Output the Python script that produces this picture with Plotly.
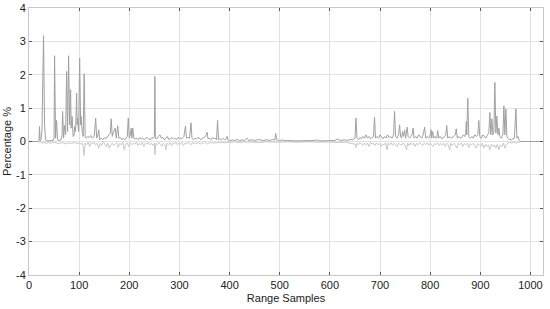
import plotly.graph_objects as go

# Series A (darker trace, positive spikes)
a_x = [0, 18, 20, 21, 22, 24, 26, 29, 31, 33, 36, 40, 44, 48, 50, 51, 53, 55, 57, 60, 64, 66, 67, 69, 71, 73, 75, 76, 77, 79, 81, 83, 84, 86, 88, 90, 91, 93, 95, 96, 97, 99, 101, 103, 104, 106, 108, 110, 112, 114, 117, 120, 123, 126, 130, 133, 135, 137, 139, 141, 144, 147, 150, 153, 156, 159, 162, 164, 166, 169, 172, 174, 177, 179, 182, 185, 188, 191, 194, 196, 198, 200, 202, 204, 205, 207, 209, 212, 215, 218, 221, 224, 227, 230, 233, 236, 239, 242, 245, 248, 250, 251, 252, 255, 258, 261, 264, 267, 270, 273, 276, 279, 282, 285, 288, 291, 294, 297, 300, 303, 306, 309, 312, 314, 317, 320, 323, 325, 328, 331, 334, 337, 340, 343, 346, 349, 352, 355, 357, 360, 363, 366, 369, 372, 374, 376, 378, 381, 384, 387, 390, 393, 395, 397, 400, 405, 410, 415, 420, 425, 430, 435, 438, 445, 450, 455, 460, 465, 470, 475, 480, 485, 490, 492, 494, 500, 505, 510, 515, 520, 525, 530, 540, 550, 560, 570, 574, 578, 590, 600, 610, 616, 620, 630, 635, 640, 645, 650, 652, 654, 657, 660, 663, 666, 669, 672, 675, 678, 681, 684, 687, 689, 691, 694, 697, 700, 703, 706, 709, 712, 715, 718, 721, 724, 727, 729, 731, 734, 737, 739, 741, 743, 745, 747, 749, 751, 754, 756, 759, 762, 764, 766, 768, 771, 774, 777, 780, 783, 786, 789, 791, 794, 797, 800, 802, 803, 805, 807, 810, 813, 815, 817, 820, 823, 826, 829, 831, 833, 835, 838, 841, 844, 847, 850, 852, 854, 857, 860, 863, 866, 869, 871, 872, 873, 875, 877, 880, 883, 886, 889, 892, 895, 897, 899, 902, 905, 908, 911, 914, 917, 919, 921, 923, 925, 927, 929, 931, 933, 935, 937, 939, 942, 945, 947, 949, 951, 953, 956, 959, 962, 965, 968, 971, 973, 975, 977, 981, 1025]
a_y = [0, 0, 0.05, 0.45, 0.02, 0.05, 0.4, 3.17, 0.5, 0.05, 0.02, 0.03, 0.02, 0.03, 0.1, 2.57, 0.1, 0.63, 0.05, 0.03, 0.05, 0.2, 0.9, 0.1, 0.48, 0.2, 2.1, 0.4, 0.3, 2.57, 0.5, 1.55, 0.4, 0.75, 0.15, 0.2, 0.45, 0.3, 1.45, 0.5, 0.7, 0.3, 2.5, 0.5, 0.75, 0.3, 0.15, 2.03, 0.15, 0.1, 0.15, 0.12, 0.18, 0.1, 0.15, 0.7, 0.1, 0.15, 0.35, 0.05, 0.1, 0.05, 0.12, 0.08, 0.15, 0.2, 0.25, 0.68, 0.15, 0.3, 0.4, 0.1, 0.47, 0.1, 0.12, 0.05, 0.1, 0.05, 0.12, 0.15, 0.7, 0.1, 0.2, 0.4, 0.1, 0.4, 0.1, 0.08, 0.1, 0.05, 0.12, 0.08, 0.1, 0.05, 0.1, 0.12, 0.08, 0.05, 0.12, 0.1, 0.15, 1.95, 0.1, 0.08, 0.15, 0.2, 0.1, 0.12, 0.05, 0.1, 0.15, 0.05, 0.1, 0.12, 0.08, 0.1, 0.05, 0.12, 0.1, 0.08, 0.1, 0.15, 0.46, 0.1, 0.12, 0.1, 0.56, 0.1, 0.05, 0.1, 0.08, 0.12, 0.1, 0.05, 0.1, 0.12, 0.15, 0.28, 0.08, 0.1, 0.05, 0.12, 0.08, 0.1, 0.05, 0.63, 0.05, 0.08, 0.05, 0.1, 0.05, 0.08, 0.15, 0.05, 0.02, 0.05, 0.03, 0.06, 0.02, 0.05, 0.03, 0.1, 0.03, 0.05, 0.03, 0.05, 0.06, 0.03, 0.04, 0.05, 0.03, 0.06, 0.04, 0.24, 0.05, 0.03, 0.05, 0.02, 0.03, 0.02, 0.03, 0.02, 0.02, 0.02, 0.02, 0.03, 0.05, 0.02, 0.02, 0.02, 0.03, 0.08, 0.03, 0.05, 0.03, 0.06, 0.05, 0.1, 0.7, 0.1, 0.05, 0.12, 0.08, 0.15, 0.1, 0.2, 0.1, 0.15, 0.08, 0.12, 0.15, 0.73, 0.1, 0.15, 0.1, 0.2, 0.12, 0.08, 0.15, 0.1, 0.2, 0.12, 0.15, 0.1, 0.2, 0.9, 0.15, 0.1, 0.2, 0.5, 0.15, 0.1, 0.3, 0.15, 0.35, 0.1, 0.43, 0.15, 0.1, 0.15, 0.2, 0.4, 0.1, 0.15, 0.1, 0.2, 0.15, 0.1, 0.2, 0.43, 0.1, 0.15, 0.1, 0.2, 0.35, 0.1, 0.3, 0.1, 0.15, 0.1, 0.33, 0.1, 0.15, 0.08, 0.12, 0.15, 0.2, 0.48, 0.1, 0.15, 0.1, 0.12, 0.15, 0.2, 0.38, 0.1, 0.15, 0.1, 0.12, 0.2, 0.15, 0.25, 0.6, 0.2, 1.3, 0.15, 0.1, 0.15, 0.1, 0.2, 0.15, 0.2, 0.63, 0.15, 0.1, 0.2, 0.15, 0.1, 0.2, 0.25, 0.87, 0.2, 0.68, 0.2, 0.3, 1.77, 0.25, 0.76, 0.2, 0.4, 0.15, 0.1, 0.2, 1.07, 0.2, 0.97, 0.15, 0.08, 0.06, 0.05, 0.08, 0.1, 0.98, 0.1, 0.15, 0.05, 0.0, 0.0]

# Series B (lighter trace, small negative dips)
b_x = [0, 18, 20, 22, 26, 30, 34, 38, 44, 50, 55, 60, 66, 72, 78, 84, 90, 96, 100, 104, 107, 110, 112, 115, 118, 121, 124, 127, 130, 133, 136, 139, 142, 145, 148, 151, 154, 157, 160, 163, 166, 169, 172, 175, 178, 181, 184, 187, 190, 193, 196, 199, 202, 205, 208, 211, 214, 217, 220, 223, 226, 229, 232, 235, 238, 241, 244, 247, 250, 251, 253, 256, 259, 262, 265, 268, 271, 273, 275, 278, 281, 284, 287, 290, 293, 296, 299, 302, 305, 308, 311, 314, 317, 320, 323, 326, 329, 332, 335, 338, 341, 344, 347, 350, 353, 356, 359, 362, 365, 368, 371, 374, 377, 380, 385, 390, 395, 400, 410, 420, 430, 440, 450, 460, 470, 480, 490, 500, 510, 520, 530, 540, 550, 560, 570, 580, 590, 600, 610, 620, 630, 640, 645, 650, 652, 654, 657, 660, 663, 666, 669, 672, 675, 678, 681, 684, 687, 690, 693, 696, 699, 702, 705, 708, 711, 714, 716, 719, 722, 725, 728, 731, 734, 737, 740, 743, 746, 749, 753, 755, 758, 761, 764, 767, 770, 773, 776, 779, 782, 785, 788, 791, 794, 797, 800, 803, 806, 809, 812, 815, 818, 821, 824, 827, 830, 833, 836, 839, 841, 844, 847, 850, 853, 856, 859, 862, 865, 868, 871, 874, 877, 880, 883, 886, 889, 892, 895, 898, 901, 904, 907, 910, 913, 916, 919, 922, 925, 928, 931, 934, 937, 940, 943, 946, 949, 952, 955, 958, 962, 966, 970, 975, 981, 1025]
b_y = [0, 0, -0.03, 0.0, -0.05, -0.02, -0.06, -0.03, -0.05, -0.02, -0.05, -0.06, -0.03, -0.07, -0.04, -0.06, -0.03, -0.06, -0.04, -0.08, -0.05, -0.42, -0.05, -0.1, -0.02, -0.15, -0.03, -0.08, -0.02, -0.1, -0.05, -0.2, -0.05, -0.12, 0.0, -0.08, -0.15, -0.05, -0.2, -0.1, -0.05, -0.12, -0.08, -0.03, -0.18, -0.05, -0.1, -0.02, -0.25, -0.08, -0.05, -0.15, -0.03, -0.1, -0.05, -0.08, -0.02, -0.12, -0.05, -0.1, -0.03, -0.15, -0.05, -0.08, -0.02, -0.1, -0.05, -0.12, -0.05, -0.4, -0.05, -0.1, -0.03, -0.08, -0.15, -0.05, -0.1, -0.25, -0.05, -0.1, -0.03, -0.12, -0.05, -0.08, -0.02, -0.1, -0.04, -0.08, -0.03, -0.12, -0.05, -0.08, -0.02, -0.06, -0.1, -0.03, -0.08, -0.04, -0.06, -0.02, -0.08, -0.04, -0.06, -0.02, -0.05, -0.08, -0.03, -0.05, -0.02, -0.06, -0.03, -0.05, -0.02, -0.04, -0.02, -0.04, -0.02, -0.03, -0.01, -0.03, -0.01, -0.02, -0.01, -0.03, -0.01, -0.02, -0.01, -0.02, -0.01, -0.02, -0.01, -0.02, -0.01, -0.02, -0.01, -0.02, -0.01, -0.02, -0.01, -0.03, -0.02, -0.04, -0.05, -0.08, -0.18, -0.05, -0.1, -0.03, -0.08, -0.12, -0.04, -0.1, -0.05, -0.15, -0.03, -0.08, -0.05, -0.12, -0.04, -0.1, -0.05, -0.15, -0.08, -0.1, -0.04, -0.25, -0.05, -0.1, -0.04, -0.12, -0.05, -0.1, -0.15, -0.05, -0.08, -0.12, -0.04, -0.1, -0.25, -0.05, -0.12, -0.04, -0.1, -0.05, -0.15, -0.05, -0.1, -0.04, -0.08, -0.12, -0.05, -0.1, -0.04, -0.12, -0.05, -0.1, -0.15, -0.05, -0.1, -0.04, -0.12, -0.06, -0.1, -0.05, -0.15, -0.05, -0.1, -0.25, -0.05, -0.12, -0.06, -0.1, -0.2, -0.05, -0.1, -0.04, -0.15, -0.06, -0.1, -0.05, -0.18, -0.06, -0.1, -0.05, -0.12, -0.2, -0.06, -0.1, -0.15, -0.05, -0.2, -0.08, -0.15, -0.1, -0.25, -0.08, -0.15, -0.1, -0.2, -0.08, -0.25, -0.1, -0.15, -0.05, -0.2, -0.08, -0.05, -0.02, -0.05, -0.02, -0.05, -0.02, 0.0, 0.0]

x_ticks = [0, 100, 200, 300, 400, 500, 600, 700, 800, 900, 1000]
y_ticks = [-4, -3, -2, -1, 0, 1, 2, 3, 4]
y_tick_text = ["-4", "-3", "-2", "-1", "0", "1", "2", "3", "4"]

fig = go.Figure()
fig.add_trace(go.Scatter(x=b_x, y=b_y, mode="lines",
                         line=dict(color="#c8c8c8", width=1), showlegend=False))
fig.add_trace(go.Scatter(x=a_x, y=a_y, mode="lines",
                         line=dict(color="#a0a0a0", width=1), showlegend=False))

font = dict(family="Liberation Sans, Arial, sans-serif", size=11, color="#222222")
fig.update_layout(
    width=550, height=309,
    margin=dict(l=29, r=7, t=8, b=34),
    paper_bgcolor="white", plot_bgcolor="white",
    font=font,
    xaxis=dict(range=[0, 1025], tickvals=x_ticks, showgrid=True, gridcolor="#e2e2e2",
               gridwidth=1, zeroline=False, showline=True, linecolor="#c8c8c8",
               mirror="allticks", ticks="inside", ticklen=3, tickcolor="#555555",
               automargin=False,
               title=dict(text="Range Samples", font=font, standoff=4)),
    yaxis=dict(range=[-4, 4], tickvals=y_ticks, ticktext=y_tick_text, showgrid=True,
               gridcolor="#e2e2e2", gridwidth=1, zeroline=False, showline=True,
               linecolor="#c8c8c8", mirror="allticks", ticks="inside", ticklen=3,
               tickcolor="#555555", automargin=False,
               title=dict(text="Percentage %", font=font, standoff=2)),
)

fig.write_html("out.html", config={"displayModeBar": False},
               post_script="document.body.style.margin='0';document.body.style.overflow='hidden';")
